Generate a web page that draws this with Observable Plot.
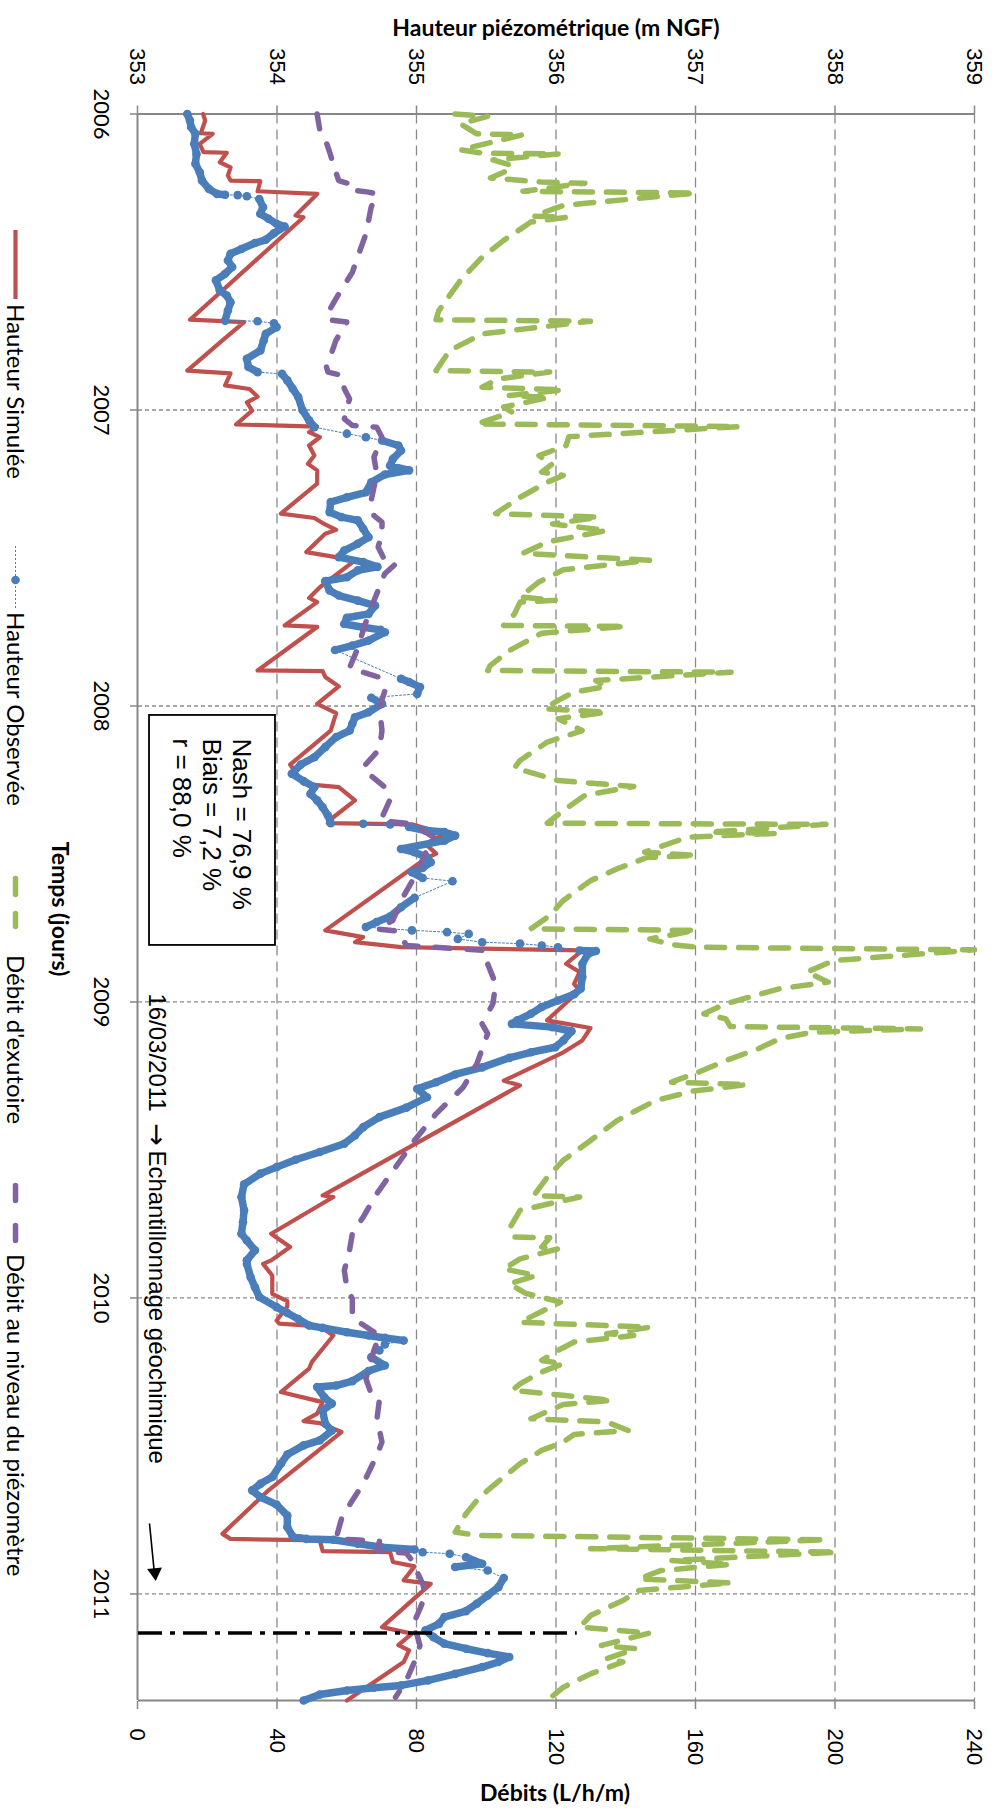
<!DOCTYPE html>
<html><head><meta charset="utf-8">
<script src="https://cdn.jsdelivr.net/npm/d3@7"></script>
<script src="https://cdn.jsdelivr.net/npm/@observablehq/plot@0.6"></script>
<style>
html,body{margin:0;padding:0;background:#fff;}
body{width:998px;height:1814px;position:relative;overflow:hidden;}
#land{position:absolute;left:0;top:0;width:1814px;height:998px;transform-origin:0 0;transform:translate(998px,0) rotate(90deg);}
.ttl{position:absolute;font-family:Lato,"Open Sans",sans-serif;font-weight:bold;font-size:23px;line-height:26px;text-align:center;color:#000;white-space:nowrap;}
.lg{position:absolute;font-family:Lato,"Open Sans",sans-serif;font-size:24px;line-height:24px;color:#000;white-space:nowrap;}
</style></head>
<body>
<div id="land"></div>
<div class="ttl" style="left:256px;width:600px;top:14px;">Hauteur piézométrique (m NGF)</div>
<div class="ttl" style="left:255px;width:600px;top:1779px;">Débits (L/h/m)</div>
<script>
// ---- axes ----
const hTicks = [353, 354, 355, 356, 357, 358, 359];
const debitTickLabels = ["0", "40", "80", "120", "160", "200", "240"];
const yearTicks = [2006, 2007, 2008, 2009, 2010, 2011];
const tEnd = 2011.36;

// ---- Hauteur simulée (m NGF) ----
const simT = [2006.000,2006.022,2006.065,2006.067,2006.101,2006.129,2006.131,2006.163,2006.180,2006.208,2006.225,2006.227,2006.261,2006.270,2006.343,2006.349,2006.695,2006.703,2006.765,2006.867,2006.876,2006.917,2006.929,2006.955,2006.974,2007.002,2007.049,2007.056,2007.075,2007.092,2007.120,2007.154,2007.182,2007.204,2007.249,2007.350,2007.365,2007.382,2007.405,2007.418,2007.480,2007.508,2007.599,2007.635,2007.649,2007.728,2007.733,2007.880,2007.882,2007.902,2007.934,2007.993,2008.024,2008.083,2008.198,2008.263,2008.274,2008.319,2008.376,2008.396,2008.400,2008.432,2008.466,2008.499,2008.516,2008.758,2008.781,2008.798,2008.815,2008.826,2008.871,2008.899,2008.939,2008.961,2009.062,2009.088,2009.130,2009.170,2009.266,2009.282,2009.654,2009.659,2009.783,2009.828,2009.873,2009.885,2009.924,2009.986,2010.011,2010.029,2010.076,2010.087,2010.096,2010.127,2010.217,2010.239,2010.318,2010.341,2010.352,2010.391,2010.416,2010.423,2010.453,2010.650,2010.797,2010.814,2010.819,2010.855,2010.859,2010.892,2010.907,2010.954,2010.966,2011.112,2011.134,2011.173,2011.191,2011.230,2011.360];
const simH = [353.47,353.485,353.454,353.539,353.446,353.473,353.64,353.59,353.667,353.648,353.667,353.88,353.861,354.288,354.133,354.19,353.376,353.764,353.609,353.357,353.667,353.628,353.803,353.861,353.784,353.822,353.706,354.288,354.23,354.307,354.23,354.268,354.222,354.288,354.288,354.028,354.268,354.327,354.424,354.346,354.21,354.559,354.307,354.23,354.288,354.055,354.288,353.861,354.327,354.346,354.443,354.288,354.424,354.385,354.094,354.191,354.443,354.559,354.404,354.365,354.967,355.2,355.064,355.141,355.064,354.346,354.617,354.559,354.889,356.189,356.072,356.169,356.13,356.169,355.936,356.247,356.189,356.053,355.626,355.742,354.327,354.404,353.958,354.094,353.958,353.9,353.966,353.966,354.074,354.074,353.997,354.016,354.307,354.404,354.249,354.23,354.028,354.23,354.327,354.288,354.191,354.307,354.462,353.939,353.609,353.667,354.307,354.327,354.811,354.831,354.986,354.908,355.102,354.753,354.967,354.87,354.947,354.908,354.501];

// ---- Hauteur observée (m NGF), run = continuous stretch of daily readings ----
const obsT = [2006.000,2006.022,2006.044,2006.067,2006.101,2006.135,2006.168,2006.197,2006.225,2006.253,2006.270,2006.273,
 2006.274,2006.278,
 2006.287,2006.315,2006.337,2006.354,2006.371,2006.380,2006.403,2006.425,2006.436,2006.456,2006.472,2006.495,2006.517,2006.540,2006.562,2006.596,2006.613,2006.636,2006.664,2006.698,
 2006.700,
 2006.707,2006.720,2006.743,2006.765,2006.799,2006.827,2006.855,2006.872,
 2006.878,2006.900,2006.928,2006.956,2007.001,2007.035,2007.058,
 2007.080,2007.092,
 2007.103,2007.120,2007.137,2007.165,2007.188,2007.204,2007.218,2007.244,2007.278,2007.295,2007.311,2007.345,2007.362,2007.373,2007.401,2007.430,2007.452,2007.475,2007.497,2007.514,2007.530,2007.542,2007.565,2007.578,2007.610,2007.627,2007.644,2007.661,2007.689,2007.702,2007.723,2007.734,2007.743,2007.751,2007.779,2007.796,2007.811,
 2007.908,2007.919,2007.936,2007.959,
 2007.972,2007.993,2008.021,2008.038,2008.060,2008.083,2008.105,2008.139,2008.173,2008.198,2008.229,2008.254,2008.274,2008.297,2008.319,2008.342,2008.370,2008.396,
 2008.398,2008.400,
 2008.409,2008.421,2008.426,2008.438,2008.455,2008.483,2008.494,2008.511,2008.528,2008.547,2008.562,2008.581,
 2008.592,
 2008.648,2008.680,2008.711,2008.730,2008.747,
 2008.758,2008.764,2008.770,2008.787,2008.798,2008.803,2008.809,2008.815,
 2008.826,2008.828,2008.839,2008.871,2008.916,2008.955,2008.974,2008.995,2009.017,2009.040,2009.062,2009.074,2009.085,2009.099,2009.130,2009.153,2009.170,2009.189,2009.221,2009.245,2009.271,2009.293,2009.322,2009.357,2009.389,2009.423,2009.451,2009.479,2009.507,2009.533,2009.558,2009.580,2009.616,2009.659,2009.704,2009.744,2009.783,2009.806,2009.839,2009.873,2009.885,2009.930,2009.964,2009.997,2010.031,2010.051,2010.071,2010.093,2010.101,
 2010.116,2010.127,
 2010.135,2010.144,2010.157,2010.177,2010.200,2010.228,2010.247,2010.281,2010.296,2010.301,2010.335,2010.357,2010.380,2010.425,2010.448,2010.481,2010.498,2010.529,2010.560,2010.605,2010.628,2010.650,2010.673,2010.698,2010.735,2010.774,2010.806,2010.814,
 2010.817,2010.830,
 2010.842,2010.850,2010.859,
 2010.864,
 2010.876,2010.898,2010.909,2010.921,2010.946,2010.977,2011.005,2011.033,2011.058,2011.078,2011.101,2011.123,2011.146,2011.168,2011.185,2011.200,2011.213,2011.230,2011.247,2011.270,2011.292,2011.309,2011.317,2011.326,2011.340,2011.360];
const obsH = [353.357,353.376,353.384,353.415,353.407,353.423,353.415,353.446,353.462,353.512,353.57,353.628,
 353.718,353.784,
 353.873,353.9,353.88,353.939,353.997,354.055,353.978,353.919,353.842,353.745,353.667,353.648,353.679,353.628,353.562,353.59,353.64,353.667,353.648,353.628,
 353.861,
 353.978,353.997,353.919,353.905,353.881,353.784,353.795,353.861,
 354.036,354.074,354.113,354.152,354.183,354.23,354.268,
 354.501,354.637,
 354.753,354.87,354.889,354.831,354.811,354.947,354.773,354.676,354.637,354.501,354.385,354.377,354.462,354.579,354.618,354.656,354.579,354.482,354.443,354.618,354.72,354.579,354.501,354.346,354.377,354.443,354.579,354.703,354.656,354.501,354.482,354.618,354.742,354.773,354.656,354.54,354.416,
 354.889,354.947,355.025,355.005,
 354.676,354.753,354.656,354.559,354.54,354.521,354.424,354.346,354.268,354.171,354.106,354.191,354.268,354.24,354.288,354.327,354.365,354.385,
 354.618,354.811,
 354.947,355.064,355.2,355.277,355.2,354.889,354.986,355.075,355.102,355.044,354.967,355.044,
 355.258,
 354.986,354.889,354.811,354.714,354.637,
 354.967,355.219,355.374,355.296,355.471,355.742,355.898,356.014,
 356.169,356.286,356.227,356.189,356.189,356.177,356.13,356.014,355.898,355.82,355.723,355.684,355.975,356.111,356.053,355.995,355.82,355.665,355.471,355.277,355.141,355.005,355.075,354.928,354.734,354.618,354.559,354.482,354.307,354.133,353.997,353.881,353.764,353.745,353.764,353.756,353.745,353.784,353.842,353.784,353.784,353.811,353.842,353.873,353.997,354.074,354.152,354.23,354.327,
 354.501,354.656,
 354.773,354.908,354.773,354.734,354.676,354.773,354.656,354.54,354.424,354.288,354.338,354.393,354.327,354.346,354.393,354.307,354.191,354.074,354.028,353.966,353.881,353.822,353.881,353.997,354.074,354.074,354.113,354.21,
 354.404,354.579,
 354.75,354.986,355.044,
 355.238,
 355.355,355.471,355.277,355.51,355.626,355.587,355.51,355.432,355.355,355.2,355.161,355.064,355.122,355.2,355.355,355.51,355.665,355.587,355.471,355.277,355.083,354.889,354.695,354.501,354.307,354.191];
const obsRun = [1,1,1,1,1,1,1,1,1,1,1,1, 2,3,
 4,4,4,4,4,4,4,4,4,4,4,4,4,4,4,4,4,4,4,4, 5,
 6,6,6,6,6,6,6,6, 7,7,7,7,7,7,7, 8,9,
 10,10,10,10,10,10,10,10,10,10,10,10,10,10,10,10,10,10,10,10,10,10,10,10,10,10,10,10,10,10,10,10,10,10,10,10,10,
 11,11,11,11,
 12,12,12,12,12,12,12,12,12,12,12,12,12,12,12,12,12,12, 13,14,
 15,15,15,15,15,15,15,15,15,15,15,15, 16,
 17,17,17,17,17, 18,19,20,21,22,23,24,25,
 26,26,26,26,26,26,26,26,26,26,26,26,26,26,26,26,26,26,26,26,26,26,26,26,26,26,26,26,26,26,26,26,26,26,26,26,26,26,26,26,26,26,26,26,26,26,26,26,26,26,26,26,26,
 27,28,
 29,29,29,29,29,29,29,29,29,29,29,29,29,29,29,29,29,29,29,29,29,29,29,29,29,29,29,29,
 30,31, 32,32,32, 33,
 34,34,34,34,34,34,34,34,34,34,34,34,34,34,34,34,34,34,34,34,34,34,34,34,34,34];

// ---- Débit d'exutoire (L/h/m) ----
const exuT = [2006.000,2006.008,2006.033,2006.067,2006.070,2006.121,2006.132,2006.135,2006.155,2006.174,2006.197,2006.216,2006.230,2006.234,2006.261,2006.267,2006.309,2006.345,2006.349,2006.365,2006.427,2006.484,2006.562,2006.664,2006.695,2006.700,2006.743,2006.799,2006.867,2006.872,2006.895,2006.923,2006.932,2006.951,2006.957,2006.990,2007.007,2007.047,2007.056,2007.090,2007.120,2007.154,2007.182,2007.210,2007.221,2007.244,2007.295,2007.350,2007.362,2007.385,2007.407,2007.446,2007.484,2007.508,2007.540,2007.581,2007.632,2007.643,2007.649,2007.689,2007.728,2007.731,2007.754,2007.813,2007.863,2007.880,2007.886,2007.914,2007.934,2007.953,2007.981,2008.009,2008.021,2008.043,2008.083,2008.122,2008.184,2008.209,2008.252,2008.272,2008.302,2008.353,2008.396,2008.400,2008.426,2008.430,2008.443,2008.494,2008.505,2008.512,2008.550,2008.590,2008.657,2008.708,2008.753,2008.758,2008.787,2008.806,2008.815,2008.824,2008.860,2008.899,2008.933,2008.955,2009.006,2009.040,2009.057,2009.083,2009.091,2009.102,2009.124,2009.158,2009.198,2009.237,2009.271,2009.279,2009.301,2009.333,2009.400,2009.468,2009.535,2009.592,2009.654,2009.659,2009.704,2009.766,2009.794,2009.797,2009.828,2009.834,2009.868,2009.902,2009.924,2009.952,2009.984,2010.014,2010.082,2010.099,2010.121,2010.127,2010.149,2010.177,2010.211,2010.222,2010.250,2010.290,2010.312,2010.329,2010.346,2010.360,2010.408,2010.419,2010.448,2010.461,2010.487,2010.515,2010.560,2010.605,2010.650,2010.684,2010.729,2010.791,2010.802,2010.817,2010.847,2010.859,2010.887,2010.900,2010.921,2010.949,2010.963,2010.988,2011.022,2011.073,2011.112,2011.132,2011.174,2011.185,2011.219,2011.230,2011.270,2011.315,2011.360];
const exuD = [91,100.4,92.6,97.3,110.5,92.6,98.8,120.6,101.9,107.4,105,101.2,115.9,128.3,110.5,160.1,122.1,113.5,122.9,112.8,105,98.8,92.6,86.4,85.6,129.9,98.8,89.5,85.6,118.2,103.5,98.8,122.1,106.6,118.2,105,107.4,97.3,172.5,123.7,122.9,115.1,119,115.9,122.1,117.5,109.7,102.7,132.2,119,134.5,117.5,110.5,146.9,122.1,115.1,109.7,119.8,109.7,108.1,105,140,115.9,106.6,101.2,100.4,170.2,131.4,134.5,125.2,120.6,116.7,134.5,120.6,127.5,117.5,109.7,108.1,120.6,142.3,128.3,122.1,117.5,197.4,164,183.4,157.8,145.4,160.1,146,137.6,129.9,122.1,118.2,112.8,160.1,146.9,153.1,160.1,240,199.7,191.9,198.1,184.2,168.7,162.4,168.7,170,224.5,193.5,184.2,178,168.7,160.9,153.1,174.9,159.3,148.5,137.6,129.9,122.1,117.5,113.6,126.8,109.7,106.6,108.1,118.2,115.9,120.6,109.7,105,114.4,106.6,111.2,121.3,109.7,146.9,134.5,142.3,125.2,120.6,115.9,122.1,115.9,109.7,107.4,122.1,136.1,122.1,112.8,134.5,140.7,125.2,122.1,115.9,109.7,105,100.4,97.3,94.2,91.1,97.3,197.4,129.9,200.5,153.1,170.2,150,143.8,170.2,143.8,139.2,129.9,126.8,146.9,133,143,134.5,139.2,129.9,122.1,117.5];

// ---- Débit au niveau du piézomètre (L/h/m) ----
const piezoT = [2006.000,2006.056,2006.084,2006.140,2006.174,2006.225,2006.236,2006.256,2006.264,2006.270,2006.315,2006.405,2006.484,2006.535,2006.608,2006.655,2006.695,2006.703,2006.765,2006.855,2006.872,2006.883,2006.928,2006.962,2007.030,2007.052,2007.058,2007.092,2007.159,2007.216,2007.306,2007.357,2007.379,2007.418,2007.463,2007.508,2007.520,2007.553,2007.621,2007.689,2007.745,2007.807,2007.871,2007.886,2007.903,2007.950,2008.004,2008.083,2008.145,2008.207,2008.229,2008.274,2008.314,2008.387,2008.398,2008.443,2008.499,2008.578,2008.657,2008.725,2008.753,2008.761,2008.809,2008.826,2008.871,2008.939,2009.006,2009.074,2009.107,2009.209,2009.288,2009.378,2009.468,2009.558,2009.648,2009.727,2009.783,2009.839,2009.907,2009.963,2010.003,2010.065,2010.085,2010.127,2010.177,2010.273,2010.324,2010.341,2010.414,2010.448,2010.487,2010.532,2010.628,2010.684,2010.746,2010.814,2010.817,2010.822,2010.855,2010.862,2010.887,2010.926,2010.966,2011.005,2011.050,2011.112,2011.140,2011.174,2011.230,2011.292,2011.349];
const piezoD = [51.5,52.3,53.8,55.4,56.2,57.7,60.8,60.8,66.3,68.6,67,65.5,63.1,61.6,57.7,55.4,54.6,60,56.9,54.2,54.6,58.5,59.3,60.8,59.3,61.6,68.6,70.1,67.8,68.6,67,67.8,70.1,70.1,69,70.9,74,70.9,68.6,66.3,64.7,63.1,60.8,64.7,69.4,70.9,69.4,70.1,69.4,64.7,66.3,70.9,72.5,69.7,78.7,84.9,82.5,79.4,75.6,73.2,68.6,74.8,77.1,99.6,100.4,102.7,101.9,98.8,100.4,97.3,93.4,85.6,79.4,74,68.6,64.7,61.6,60.8,59.3,60,61.6,61.6,63.9,69.4,67.8,65.5,67,69.4,68.6,69.4,70.1,68.6,64.7,61.6,58.5,56.9,62.4,69.4,68.6,77.1,78.7,80.2,81.8,82.5,81,78.7,80.2,81,79.4,77.1,74];

// ---- annotations ----
const statsLines = ["Nash = 76,9 %", "Biais = 7,2 %", "r = 88,0 %"];
const statsBox = {t1: 2008.032, t2: 2008.809, h1: 353.079, h2: 353.982, tText: 2008.110, hText: 353.839};
const sampling = {date: "16/03/2011", arrow: "\u2192", label: "Echantillonnage g\u00e9ochimique", t: 2011.132, hTop: 356.145, tText: 2008.971, hText: 353.086,
  arrowT1: 2010.762, arrowH1: 353.086, arrowT2: 2010.948, arrowH2: 353.125};

const legendItems = [
  {label: "Hauteur Simulée", kind: "sim", x0: 230, x1: 299, tx: 304},
  {label: "Hauteur Observée", kind: "obs", x0: 546, x1: 610, tx: 612},
  {label: "Débit d'exutoire", kind: "exu", x0: 876, x1: 929, tx: 955},
  {label: "Débit au niveau du piézomètre", kind: "piezo", x0: 1183, x1: 1243, tx: 1254}
];

// ---- build ----
const C = {sim: "#C0504D", obs: "#4A7EBB", exu: "#9BBB59", piezo: "#8064A2", axis: "#868686", grid: "#8a8a8a"};
const toH = d => 353 + d / 40;
const sim = simT.map((t, i) => ({t, v: simH[i]}));
const obs = obsT.map((t, i) => ({t, v: obsH[i], run: obsRun[i]}));
const exu = exuT.map((t, i) => ({t, v: exuD[i]}));
const piezo = piezoT.map((t, i) => ({t, v: piezoD[i]}));

const arrowAngle = Math.atan2(-(sampling.arrowH2 - sampling.arrowH1) * 139.5, (sampling.arrowT2 - sampling.arrowT1) * 296) * 180 / Math.PI;
const arial = "'Liberation Sans', Arial, sans-serif";

const chart = Plot.plot({
  width: 1814, height: 998,
  marginLeft: 113.5, marginRight: 114, marginTop: 23, marginBottom: 138,
  x: {domain: [2006, tEnd]},
  y: {domain: [353, 359]},
  style: {fontFamily: arial, fontSize: "22px", background: "white", color: "black", overflow: "visible"},
  marks: [
    Plot.gridY(hTicks.filter(v => v > 353), {stroke: C.grid, strokeOpacity: 1, strokeWidth: 1.3, strokeDasharray: "10,6"}),
    Plot.gridX(yearTicks.filter(v => v > 2006), {stroke: C.grid, strokeOpacity: 1, strokeWidth: 1.3, strokeDasharray: "4,3"}),
    Plot.axisY(hTicks, {anchor: "left", tickSize: 8, tickPadding: 21, stroke: C.axis, strokeWidth: 1.5, fill: "black", fontSize: 22, tickFormat: d => String(d)}),
    Plot.axisY(hTicks, {anchor: "right", tickSize: 8, tickPadding: 20, stroke: C.axis, strokeWidth: 1.5, fill: "black", fontSize: 22, tickFormat: d => debitTickLabels[hTicks.indexOf(d)]}),
    Plot.axisX(yearTicks, {anchor: "bottom", tickSize: 8, tickPadding: 20, stroke: C.axis, strokeWidth: 1.5, fill: "black", fontSize: 22, fontFamily: "Lato, 'Open Sans', sans-serif", tickFormat: d => String(d), label: null}),
    Plot.ruleY([353], {stroke: C.axis, strokeWidth: 2}),
    Plot.ruleX([2006, tEnd], {stroke: C.axis, strokeWidth: 2}),
    // box
    Plot.rect([statsBox], {x1: "t1", x2: "t2", y1: "h1", y2: "h2", fill: "white", stroke: "black", strokeWidth: 1.8}),
    Plot.text([statsLines.join("\n")], {x: statsBox.tText, y: statsBox.hText, text: d => d, textAnchor: "start", lineAnchor: "top", lineHeight: 1.16, fontSize: 26, fill: "black"}),
    // series
    Plot.line(sim, {x: "t", y: "v", stroke: C.sim, strokeWidth: 4.2, strokeLinejoin: "round"}),
    Plot.line(obs, {x: "t", y: "v", stroke: C.obs, strokeWidth: 1, strokeDasharray: "2,2"}),
    Plot.line(obs, {x: "t", y: "v", z: "run", stroke: C.obs, strokeWidth: 7.5, strokeLinecap: "round", strokeLinejoin: "round"}),
    Plot.dot(obs, {x: "t", y: "v", r: 4.3, fill: C.obs, stroke: "none"}),
    Plot.line(exu, {x: "t", y: d => toH(d.v), stroke: C.exu, strokeWidth: 5.5, strokeDasharray: "18,14", strokeLinecap: "round", strokeLinejoin: "round"}),
    Plot.line(piezo, {x: "t", y: d => toH(d.v), stroke: C.piezo, strokeWidth: 5.5, strokeDasharray: "15,17", strokeLinecap: "round", strokeLinejoin: "round"}),
    // sampling date
    Plot.ruleX([sampling], {x: "t", y1: 353, y2: "hTop", stroke: "black", strokeWidth: 3.5, strokeDasharray: "24,8,5,8"}),
    Plot.text([sampling], {x: "tText", y: "hText", text: "date", textAnchor: "start", lineAnchor: "bottom", fontSize: 24, fill: "black"}),
    Plot.text([sampling], {x: "tText", y: "hText", text: "arrow", textAnchor: "start", lineAnchor: "bottom", fontSize: 27, fontFamily: "'DejaVu Sans', sans-serif", dx: 130, dy: 1, fill: "black"}),
    Plot.text([sampling], {x: "tText", y: "hText", text: "label", textAnchor: "start", lineAnchor: "bottom", fontSize: 24, dx: 157, fill: "black"}),
    Plot.link([sampling], {x1: "arrowT1", y1: "arrowH1", x2: "arrowT2", y2: "arrowH2", stroke: "black", strokeWidth: 1.6}),
    Plot.dot([sampling], {x: "arrowT2", y: "arrowH2", symbol: "triangle", r: 5.5, fill: "black", stroke: "none", rotate: 90 + arrowAngle, dx: -6})
  ]
});
const land = document.getElementById("land");
land.appendChild(chart);

// axis title & legend (inside rotated frame)
const tt = document.createElement("div");
tt.className = "ttl";
tt.textContent = "Temps (jours)";
tt.style.cssText = "left:609px;width:600px;top:924px;font-size:23px;";
land.appendChild(tt);

const ns = "http://www.w3.org/2000/svg";
const lsvg = document.createElementNS(ns, "svg");
lsvg.setAttribute("width", 1814); lsvg.setAttribute("height", 40);
lsvg.style.cssText = "position:absolute;left:0;top:962px;overflow:visible;";
land.appendChild(lsvg);
const ly = 20.5;
for (const it of legendItems) {
  const ln = document.createElementNS(ns, "line");
  ln.setAttribute("x1", it.x0); ln.setAttribute("x2", it.x1);
  ln.setAttribute("y1", ly); ln.setAttribute("y2", ly);
  ln.setAttribute("stroke", C[it.kind]);
  if (it.kind === "sim") { ln.setAttribute("stroke-width", 4.2); }
  if (it.kind === "obs") { ln.setAttribute("stroke-width", 1); ln.setAttribute("stroke-dasharray", "2,2"); }
  if (it.kind === "exu") { ln.setAttribute("stroke-width", 5.5); ln.setAttribute("stroke-dasharray", "16,19"); ln.setAttribute("stroke-linecap", "round"); ln.setAttribute("x1", it.x0 + 2.5); ln.setAttribute("x2", it.x1 - 2.5); }
  if (it.kind === "piezo") { ln.setAttribute("stroke-width", 5.5); ln.setAttribute("stroke-dasharray", "15,25"); ln.setAttribute("stroke-linecap", "round"); ln.setAttribute("x1", it.x0 + 2.5); ln.setAttribute("x2", it.x1 - 2.5); }
  lsvg.appendChild(ln);
  if (it.kind === "obs") {
    const c = document.createElementNS(ns, "circle");
    c.setAttribute("cx", (it.x0 + it.x1) / 2 + 2); c.setAttribute("cy", ly); c.setAttribute("r", 4.3); c.setAttribute("fill", C.obs);
    lsvg.appendChild(c);
  }
  const s = document.createElement("div");
  s.className = "lg";
  s.textContent = it.label;
  s.style.left = it.tx + "px";
  s.style.top = "970px";
  land.appendChild(s);
}
</script>
</body></html>
